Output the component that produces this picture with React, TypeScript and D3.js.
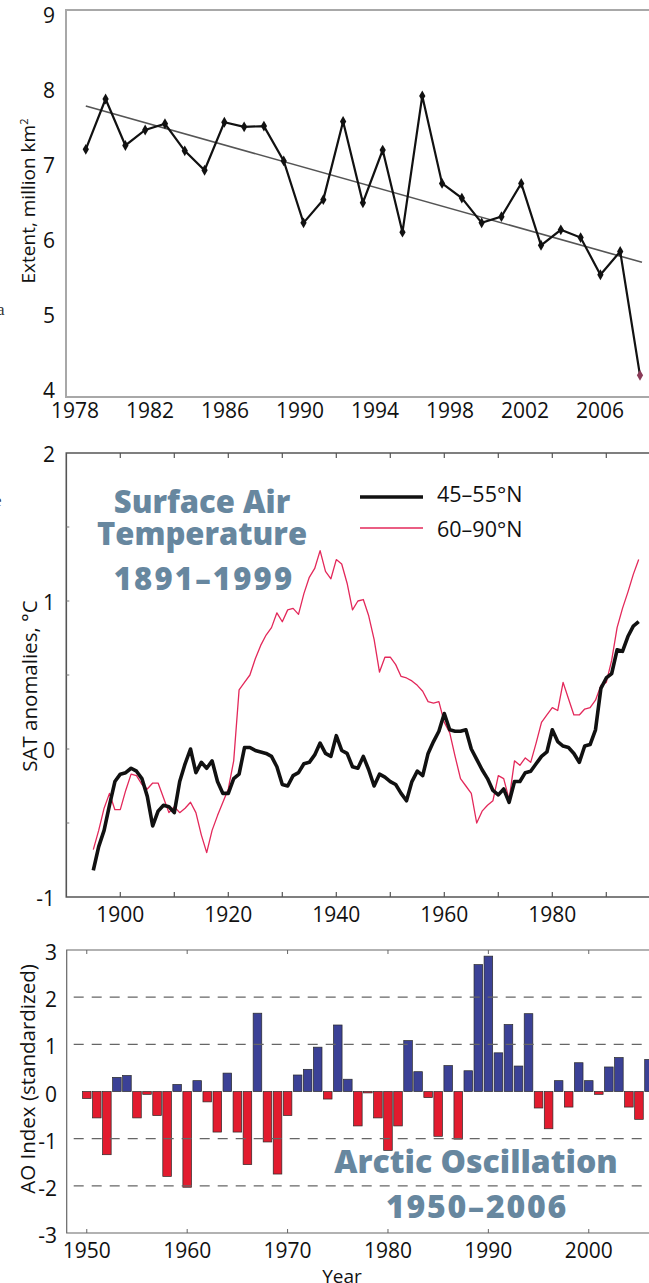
import React from 'react';
import * as d3 from 'd3';

const W = 649;
const H = 1283;

// ---- Panel 1: September sea ice extent (million km²)
const iceYears = [
  1979, 1980, 1981, 1982, 1983, 1984, 1985, 1986, 1987, 1988, 1989, 1990, 1991, 1992, 1993,
  1994, 1995, 1996, 1997, 1998, 1999, 2000, 2001, 2002, 2003, 2004, 2005, 2006, 2007,
];
const iceExtent = [
  7.2, 7.85, 7.25, 7.45, 7.53, 7.18, 6.93, 7.55, 7.49, 7.5, 7.05, 6.25, 6.55, 7.56, 6.51,
  7.19, 6.13, 7.89, 6.76, 6.57, 6.25, 6.33, 6.76, 5.96, 6.16, 6.06, 5.58, 5.88, 4.28,
];
const trendYears = [1979, 2007.1];
const trendValues = [7.76, 5.74];
const iceTickLabels = ['1978', '1982', '1986', '1990', '1994', '1998', '2002', '2006'];
const iceYTicks = [4, 5, 6, 7, 8, 9];

// ---- Panel 2: SAT anomalies (°C), 1895–1996
const satYears = d3.range(1895, 1997);
const sat4555 = [
  -0.82, -0.66, -0.55, -0.38, -0.22, -0.17, -0.16, -0.13, -0.15, -0.2,
  -0.32, -0.52, -0.42, -0.38, -0.39, -0.43, -0.22, -0.1, 0.0, -0.16,
  -0.09, -0.13, -0.08, -0.22, -0.3, -0.3, -0.2, -0.17, 0.01, 0.01,
  -0.01, -0.02, -0.03, -0.05, -0.12, -0.24, -0.25, -0.18, -0.16, -0.1,
  -0.09, -0.04, 0.04, -0.03, -0.05, 0.09, -0.01, -0.03, -0.12, -0.13,
  -0.05, -0.14, -0.25, -0.17, -0.19, -0.22, -0.24, -0.3, -0.35, -0.22,
  -0.15, -0.18, -0.03, 0.05, 0.12, 0.24, 0.13, 0.12, 0.12, 0.13,
  0.0, -0.07, -0.14, -0.2, -0.28, -0.31, -0.27, -0.36, -0.22, -0.22,
  -0.16, -0.15, -0.1, -0.05, -0.02, 0.13, 0.05, 0.02, 0.01, -0.03,
  -0.09, 0.02, 0.03, 0.13, 0.41, 0.48, 0.51, 0.67, 0.66, 0.76,
  0.83, 0.86,
];
const sat6090 = [
  -0.68, -0.55, -0.4, -0.3, -0.41, -0.41, -0.28, -0.17, -0.18, -0.24,
  -0.27, -0.23, -0.23, -0.33, -0.43, -0.39, -0.43, -0.4, -0.36, -0.43,
  -0.58, -0.7, -0.55, -0.45, -0.36, -0.27, -0.08, 0.4, 0.45, 0.5,
  0.61, 0.7, 0.77, 0.82, 0.92, 0.86, 0.94, 0.95, 0.91, 1.05,
  1.16, 1.22, 1.34, 1.2, 1.15, 1.28, 1.25, 1.12, 0.94, 1.0,
  1.01, 0.9, 0.74, 0.52, 0.62, 0.62, 0.57, 0.49, 0.48, 0.46,
  0.43, 0.39, 0.32, 0.31, 0.32, 0.18, 0.11, -0.05, -0.2, -0.25,
  -0.3, -0.5, -0.42, -0.38, -0.35, -0.18, -0.2, -0.34, -0.08, -0.11,
  -0.06, -0.09, 0.04, 0.18, 0.23, 0.28, 0.26, 0.45, 0.34, 0.23,
  0.23, 0.27, 0.28, 0.33, 0.43, 0.45, 0.6, 0.82, 0.95, 1.06,
  1.18, 1.28,
];
const satXLabels = [1900, 1920, 1940, 1960, 1980];
const satXTicks = [1900, 1910, 1920, 1930, 1940, 1950, 1960, 1970, 1980, 1990];
const satYLabels = [2, 1, 0, -1];
const satYMinor = [1.5, 1, 0.5, 0, -0.5];
const satLegend = ['45–55°N', '60–90°N'];

// ---- Panel 3: AO index (standardized), 1950–2006
const aoYears = d3.range(1950, 2007);
const aoValues = [
  -0.15, -0.56, -1.34, 0.3, 0.34, -0.56, -0.06, -0.51, -1.8, 0.15,
  -2.03, 0.23, -0.22, -0.86, 0.39, -0.86, -1.55, 1.66, -1.07, -1.75,
  -0.51, 0.35, 0.47, 0.94, -0.16, 1.41, 0.26, -0.73, -0.03, -0.56,
  -1.25, -0.73, 1.08, 0.42, -0.13, -0.95, 0.55, -1.01, 0.44, 2.69,
  2.87, 0.82, 1.42, 0.54, 1.65, -0.35, -0.79, 0.23, -0.33, 0.61,
  0.23, -0.06, 0.52, 0.72, -0.33, -0.59, 0.68,
];
const aoXLabels = [1950, 1960, 1970, 1980, 1990, 2000];
const aoYLabels = [3, 2, 1, 0, -1, -2, -3];
const aoGrid = [2, 1, -1, -2];

const FONT = '"Open Sans", "DejaVu Sans", sans-serif';
const TITLE = '#67879f';

export default function App() {
  // panel 1 scales (labels in the original sit on a slightly tighter grid than the data)
  const x1 = d3.scaleLinear().domain([1978, 2007]).range([66, 640]);
  const x1Label = d3.scaleLinear().domain([1978, 2006]).range([75, 600]);
  const y1 = d3.scaleLinear().domain([4, 9]).range([397, 10]);
  const y1Label = d3.scaleLinear().domain([4, 9]).range([390, 15]);
  const iceLine = d3
    .line<number>()
    .x((_, i) => x1(iceYears[i]))
    .y((d) => y1(d));
  const trendLine = d3
    .line<number>()
    .x((_, i) => x1(trendYears[i]))
    .y((d) => y1(d));
  const diamond = d3.symbol(d3.symbolDiamond, 34)() || '';

  // panel 2 scales
  const x2 = d3.scaleLinear().domain([1890, 2000]).range([66.3, 660.3]);
  const y2 = d3.scaleLinear().domain([-1, 2]).range([897, 453]);
  const satLine = d3
    .line<number>()
    .x((_, i) => x2(satYears[i]))
    .y((d) => y2(d));

  // panel 3 scales
  const x3 = d3.scaleLinear().domain([1948, 2006]).range([66.7, 649]);
  const y3 = d3.scaleLinear().domain([-3, 3]).range([1233, 950]);
  const barW = 8.6;

  return (
    <svg
      width={W}
      height={H}
      style={{ position: 'absolute', left: 0, top: 0, background: '#fff' }}
      fontFamily={FONT}
    >
      <rect width={W} height={H} fill="#fff" />

      {/* clipped neighbour text fragments on the left edge */}
      <text x={-3} y={315} fontFamily="serif" fontSize={17} fill="#333">a</text>
      <text x={-6} y={506} fontFamily="serif" fontSize={17} fill="#333">e</text>

      {/* ================= Panel 1 ================= */}
      <g>
        <path
          d={`M${W + 10},${y1(9)}H${x1(1978)}V${y1(4)}H${W + 10}`}
          fill="none"
          stroke="#a8a8a8"
          strokeWidth={2}
        />
        <path d={trendLine(trendValues) || ''} fill="none" stroke="#555" strokeWidth={1.6} />
        <path d={iceLine(iceExtent) || ''} fill="none" stroke="#111" strokeWidth={2.2} />
        {iceExtent.map((v, i) => (
          <path
            key={i}
            d={diamond}
            transform={`translate(${x1(iceYears[i])},${y1(v)})`}
            fill={i === iceExtent.length - 1 ? '#8a3b58' : '#111'}
          />
        ))}
        {iceYTicks.map((t) => (
          <text key={t} x={55} y={y1Label(t)} textAnchor="end" dominantBaseline="central" fontSize={21} fill="#111">
            {t}
          </text>
        ))}
        {iceTickLabels.map((t) => (
          <text key={t} x={x1Label(+t)} y={418} textAnchor="middle" fontSize={21} fill="#111">
            {t}
          </text>
        ))}
        <text transform={`translate(35,201) rotate(-90)`} textAnchor="middle" fontSize={19} fill="#111">
          Extent, million km<tspan dy={-7} fontSize={11}>2</tspan>
        </text>
      </g>

      {/* ================= Panel 2 ================= */}
      <g>
        <path
          d={`M${W + 10},${y2(2)}H${x2(1890)}V${y2(-1)}H${W + 10}`}
          fill="none"
          stroke="#555"
          strokeWidth={1.6}
        />
        {satXTicks.map((t) => (
          <g key={t} stroke="#555" strokeWidth={1.2}>
            <line x1={x2(t)} x2={x2(t)} y1={y2(2)} y2={y2(2) + 5} />
            <line x1={x2(t)} x2={x2(t)} y1={y2(-1)} y2={y2(-1) - 5} />
          </g>
        ))}
        {satYMinor.map((t) => (
          <line key={t} x1={x2(1890)} x2={x2(1890) + 3} y1={y2(t)} y2={y2(t)} stroke="#777" strokeWidth={1} />
        ))}
        <path d={satLine(sat6090) || ''} fill="none" stroke="#e3285a" strokeWidth={1.3} strokeLinejoin="round" />
        <path d={satLine(sat4555) || ''} fill="none" stroke="#111" strokeWidth={3.6} strokeLinejoin="round" />
        {satYLabels.map((t) => (
          <text key={t} x={55} y={y2(t) + 1} textAnchor="end" dominantBaseline="central" fontSize={21} fill="#111">
            {t}
          </text>
        ))}
        {satXLabels.map((t) => (
          <text key={t} x={x2(t)} y={922} textAnchor="middle" fontSize={21} fill="#111">
            {t}
          </text>
        ))}
        <text transform={`translate(37,686) rotate(-90)`} textAnchor="middle" fontSize={20.5} fill="#111">
          SAT anomalies, °C
        </text>

        {/* legend */}
        <line x1={360} x2={423} y1={497} y2={497} stroke="#111" strokeWidth={3.6} />
        <line x1={360} x2={423} y1={528} y2={528} stroke="#e3285a" strokeWidth={1.3} />
        <text x={437} y={502} fontSize={21.5} fill="#111">{satLegend[0]}</text>
        <text x={437} y={537} fontSize={21.5} fill="#111">{satLegend[1]}</text>

        {/* title */}
        <g fill={TITLE} fontWeight={800} textAnchor="middle" fontSize={31}>
          <text x={202} y={513}>Surface Air</text>
          <text x={202} y={545}>Temperature</text>
          <text x={204} y={590} letterSpacing={2.2}>1891–1999</text>
        </g>
      </g>

      {/* ================= Panel 3 ================= */}
      <g>
        {aoValues.map((v, i) => (
          <rect
            key={i}
            x={x3(aoYears[i]) - barW / 2}
            y={y3(Math.max(0, v))}
            width={barW}
            height={Math.abs(y3(v) - y3(0))}
            fill={v >= 0 ? '#3b4196' : '#e21b2e'}
            stroke="#2a2a2a"
            strokeWidth={0.7}
          />
        ))}
        {aoGrid.map((g) => (
          <line
            key={g}
            x1={x3(1948)}
            x2={W}
            y1={y3(g)}
            y2={y3(g)}
            stroke="#666"
            strokeWidth={1.2}
            strokeDasharray="10 8"
            strokeDashoffset={-7}
          />
        ))}
        <path
          d={`M${W + 10},${y3(3)}H${x3(1948)}V${y3(-3)}H${W + 10}`}
          fill="none"
          stroke="#666"
          strokeWidth={1.2}
        />
        {aoXLabels.map((t) => (
          <g key={t} stroke="#666" strokeWidth={1}>
            <line x1={x3(t)} x2={x3(t)} y1={y3(3)} y2={y3(3) + 4} />
            <line x1={x3(t)} x2={x3(t)} y1={y3(-3)} y2={y3(-3) - 4} />
          </g>
        ))}
        {aoYLabels.map((t) => (
          <text key={t} x={57} y={y3(t) + 2} textAnchor="end" dominantBaseline="central" fontSize={21} fill="#111">
            {t}
          </text>
        ))}
        {aoXLabels.map((t) => (
          <text key={t} x={x3(t)} y={1258} textAnchor="middle" fontSize={21} fill="#111">
            {t}
          </text>
        ))}
        <text x={342} y={1283} textAnchor="middle" fontSize={19} fill="#111">Year</text>
        <text transform={`translate(35,1079) rotate(-90)`} textAnchor="middle" fontSize={20.5} fill="#111">
          AO Index (standardized)
        </text>
        <g fill={TITLE} fontWeight={800} textAnchor="middle" fontSize={32}>
          <text x={476} y={1173}>Arctic Oscillation</text>
          <text x={477} y={1218} letterSpacing={1.8}>1950–2006</text>
        </g>
      </g>
    </svg>
  );
}
